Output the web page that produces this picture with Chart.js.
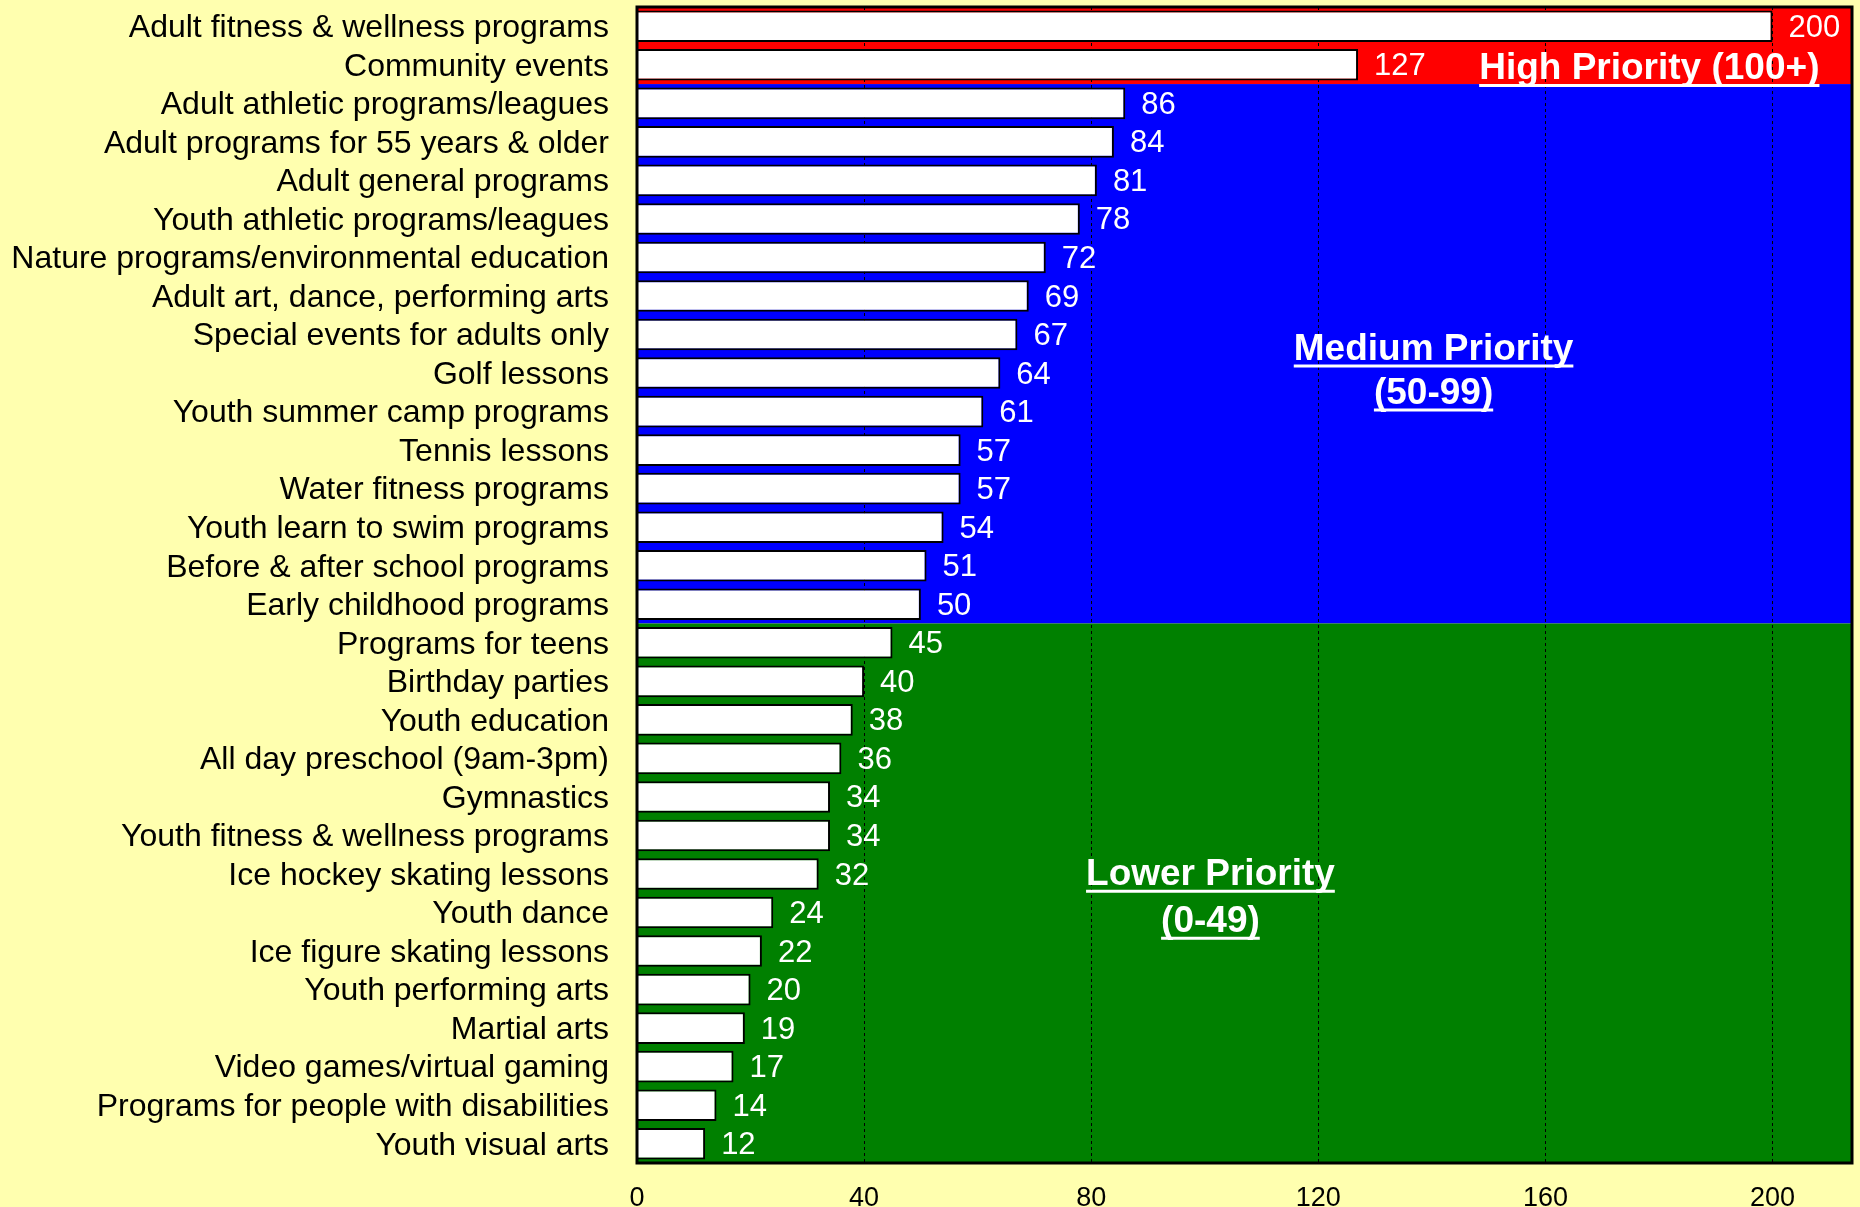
<!DOCTYPE html>
<html>
<head>
<meta charset="utf-8">
<script src="https://cdn.jsdelivr.net/npm/chart.js@4/dist/chart.umd.min.js"></script>
<style>
  html, body { margin: 0; padding: 0; background: #FFFFAF; }
  #wrap { width: 1860px; height: 1207px; }
</style>
</head>
<body>
<div id="wrap"><canvas id="c" width="1860" height="1207"></canvas></div>
<script>
// ---- data ----
const categories = [
  "Adult fitness & wellness programs",
  "Community events",
  "Adult athletic programs/leagues",
  "Adult programs for 55 years & older",
  "Adult general programs",
  "Youth athletic programs/leagues",
  "Nature programs/environmental education",
  "Adult art, dance, performing arts",
  "Special events for adults only",
  "Golf lessons",
  "Youth summer camp programs",
  "Tennis lessons",
  "Water fitness programs",
  "Youth learn to swim programs",
  "Before & after school programs",
  "Early childhood programs",
  "Programs for teens",
  "Birthday parties",
  "Youth education",
  "All day preschool (9am-3pm)",
  "Gymnastics",
  "Youth fitness & wellness programs",
  "Ice hockey skating lessons",
  "Youth dance",
  "Ice figure skating lessons",
  "Youth performing arts",
  "Martial arts",
  "Video games/virtual gaming",
  "Programs for people with disabilities",
  "Youth visual arts"
];
const values = [200, 127, 86, 84, 81, 78, 72, 69, 67, 64, 61, 57, 57, 54, 51, 50,
                45, 40, 38, 36, 34, 34, 32, 24, 22, 20, 19, 17, 14, 12];
const xTicks = [0, 40, 80, 120, 160, 200];
const priorityLabels = ["High Priority (100+)", "Medium Priority", "(50-99)", "Lower Priority", "(0-49)"];
const priorityThresholds = [100, 50]; // high >= 100, medium >= 50, lower < 50

// ---- styles / positions ----
const BG = '#FFFFAF';
const BAND_COLORS = ['#FF0000', '#0000FF', '#008000'];
const FONT = '"Liberation Sans", Arial, Helvetica, sans-serif';
// annotation anchors (x in axis units, y in category-index units, baseline)
const annotations = [
  { text: priorityLabels[0], x: 178.3, y: 1.38 },
  { text: priorityLabels[1], x: 140.3, y: 8.66 },
  { text: priorityLabels[2], x: 140.3, y: 9.80 },
  { text: priorityLabels[3], x: 101.0, y: 22.29 },
  { text: priorityLabels[4], x: 101.0, y: 23.51 }
];

function groupOf(v) {
  if (v >= priorityThresholds[0]) return 0;
  if (v >= priorityThresholds[1]) return 1;
  return 2;
}

const bgPlugin = {
  id: 'bands',
  beforeDraw(chart) {
    const { ctx, chartArea: a, scales: { y } } = chart;
    ctx.save();
    ctx.fillStyle = BG;
    ctx.fillRect(0, 0, chart.width, chart.height);
    let start = 0;
    for (let i = 1; i <= values.length; i++) {
      if (i === values.length || groupOf(values[i]) !== groupOf(values[start])) {
        const top = start === 0 ? a.top : (y.getPixelForValue(start - 1) + y.getPixelForValue(start)) / 2;
        const bot = i === values.length ? a.bottom : (y.getPixelForValue(i - 1) + y.getPixelForValue(i)) / 2;
        ctx.fillStyle = BAND_COLORS[groupOf(values[start])];
        ctx.fillRect(a.left, top, a.right - a.left, bot - top);
        start = i;
      }
    }
    ctx.restore();
  },
  afterDatasetsDraw(chart) {
    const { ctx, scales: { x, y } } = chart;
    const meta = chart.getDatasetMeta(0);
    ctx.save();
    ctx.fillStyle = '#FFFFFF';
    ctx.font = '31px ' + FONT;
    ctx.textAlign = 'left';
    ctx.textBaseline = 'middle';
    meta.data.forEach((bar, i) => {
      ctx.fillText(String(values[i]), bar.x + 16, bar.y + 2);
    });
    ctx.font = 'bold 37px ' + FONT;
    ctx.textAlign = 'center';
    ctx.textBaseline = 'alphabetic';
    ctx.strokeStyle = '#FFFFFF';
    ctx.lineWidth = 3;
    annotations.forEach(an => {
      const px = x.getPixelForValue(an.x);
      const py = y.getPixelForValue(an.y);
      ctx.fillText(an.text, px, py);
      const w = ctx.measureText(an.text).width;
      ctx.beginPath();
      ctx.moveTo(px - w / 2, py + 6);
      ctx.lineTo(px + w / 2, py + 6);
      ctx.stroke();
    });
    ctx.restore();
  },
  afterDraw(chart) {
    const { ctx, chartArea: a } = chart;
    ctx.save();
    ctx.strokeStyle = '#000000';
    ctx.lineWidth = 3;
    ctx.strokeRect(a.left, a.top, a.right - a.left, a.bottom - a.top);
    ctx.restore();
  }
};

new Chart(document.getElementById('c'), {
  type: 'bar',
  data: {
    labels: categories,
    datasets: [{
      data: values,
      backgroundColor: '#FFFFFF',
      borderColor: '#000000',
      borderWidth: 2,
      barPercentage: 0.82,
      categoryPercentage: 1.0
    }]
  },
  options: {
    indexAxis: 'y',
    responsive: false,
    animation: false,
    layout: { padding: { left: 0, top: 7, right: 8, bottom: 0 } },
    plugins: { legend: { display: false }, tooltip: { enabled: false } },
    scales: {
      x: {
        min: 0, max: 214,
        afterFit(s) { s.height = 44; s.paddingLeft = 0; s.paddingRight = 0; },
        afterBuildTicks(s) { s.ticks = xTicks.map(v => ({ value: v })); },
        ticks: {
          includeBounds: false,
          color: '#000000',
          font: { family: FONT, size: 27 },
          padding: 19
        },
        grid: { color: '#000000', lineWidth: 1, drawTicks: false },
        border: { display: false, dash: [3, 3] }
      },
      y: {
        afterFit(s) { s.width = 637; s.paddingTop = 0; s.paddingBottom = 0; },
        ticks: {
          color: '#000000',
          font: { family: FONT, size: 32 },
          padding: 28,
          labelOffset: 2,
          autoSkip: false
        },
        grid: { display: false, drawTicks: false },
        border: { display: false }
      }
    }
  },
  plugins: [bgPlugin]
});
</script>
</body>
</html>
